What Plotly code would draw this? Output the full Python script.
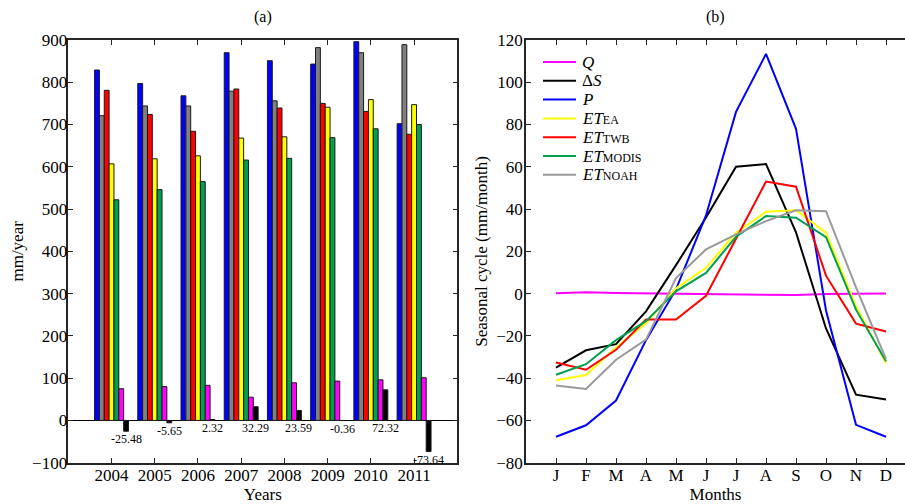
import plotly.graph_objects as go

years = [2004, 2005, 2006, 2007, 2008, 2009, 2010, 2011]
P_year = [829, 797, 768, 870, 851, 843, 896, 702]
NOAH_year = [721, 744, 744, 779, 756, 882, 870, 889]
TWB_year = [781, 724, 684, 784, 739, 750, 731, 677]
EA_year = [607, 619, 626, 668, 671, 741, 759, 747]
MODIS_year = [522, 546, 565, 616, 620, 669, 690, 700]
Q_year = [75, 80, 83, 55, 89, 93, 96, 101]
dS_year = [-25.48, -5.65, 2.32, 32.29, 23.59, -0.36, 72.32, -73.64]

months = list(range(1, 13))
month_labels = ["J", "F", "M", "A", "M", "J", "J", "A", "S", "O", "N", "D"]
Q_m = [0.2, 0.7, 0.3, 0.1, 0.0, -0.2, -0.3, -0.4, -0.7, -0.2, 0.1, 0.1]
dS_m = [-35.0, -26.8, -23.9, -8.4, 13.5, 36.0, 60.0, 61.3, 29.0, -16.5, -47.8, -50.1]
P_m = [-67.7, -62.3, -50.6, -22.0, 2.0, 37.0, 86.0, 113.4, 78.0, -8.0, -62.1, -67.7]
EA_m = [-41.0, -38.5, -25.5, -14.0, 2.5, 12.2, 28.8, 38.7, 39.4, 28.8, -6.0, -33.0]
TWB_m = [-32.6, -36.0, -26.6, -12.3, -12.3, -1.0, 26.0, 53.0, 50.6, 8.5, -14.2, -17.9]
MODIS_m = [-38.4, -33.4, -22.0, -13.0, 1.1, 9.8, 26.9, 36.7, 35.9, 26.7, -7.6, -32.0]
NOAH_m = [-43.5, -45.1, -31.3, -21.8, 7.4, 20.9, 28.0, 34.3, 39.4, 39.0, 3.0, -31.0]

C_BLUE = "#0000ff"
C_GRAY = "#808080"
C_GRAY_L = "#999999"
C_RED = "#ff0000"
C_YEL = "#ffff00"
C_GRN = "#00a050"
C_MAG = "#ff00ff"
C_BLK = "#000000"

FONT = "Liberation Serif"
AX = "#262626"
W, H = 905, 504

fig = go.Figure()

bar_series = [
    (P_year, C_BLUE),
    (NOAH_year, C_GRAY),
    (TWB_year, C_RED),
    (EA_year, C_YEL),
    (MODIS_year, C_GRN),
    (Q_year, C_MAG),
    (dS_year, C_BLK),
]
for vals, col in bar_series:
    fig.add_trace(go.Bar(x=years, y=vals, marker=dict(color=col, line=dict(color="#1a1a1a", width=1)),
                         showlegend=False, xaxis="x", yaxis="y"))

bargap = 0.215
n_b = len(bar_series)
gw = 1 - bargap
off = -gw / 2 + (n_b - 1 + 0.5) * gw / n_b
for yr, v in zip(years, dS_year):
    fig.add_annotation(x=yr + off, y=min(0, v), xref="x", yref="y", text=f"{v:.2f}",
                       showarrow=False, yanchor="top", yshift=1,
                       font=dict(family=FONT, size=12, color="black"))

SUB = '<span style="font-size:12px">{}</span>'
line_series = [
    ("<i>Q</i>", Q_m, C_MAG),
    ("Δ<i>S</i>", dS_m, C_BLK),
    ("<i>P</i>", P_m, C_BLUE),
    ("<i>ET</i>" + SUB.format("EA"), EA_m, C_YEL),
    ("<i>ET</i>" + SUB.format("TWB"), TWB_m, C_RED),
    ("<i>ET</i>" + SUB.format("MODIS"), MODIS_m, C_GRN),
    ("<i>ET</i>" + SUB.format("NOAH"), NOAH_m, C_GRAY_L),
]
for name, vals, col in line_series:
    fig.add_trace(go.Scatter(x=months, y=vals, mode="lines", name=name, showlegend=False,
                             line=dict(color=col, width=2), xaxis="x2", yaxis="y2"))

# legend drawn as line swatches + labels (top-left of panel b)
leg_x0, leg_x1, leg_tx = 543 / W, 576 / W, 580 / W
for i, (name, vals, col) in enumerate(line_series):
    yy = 1 - (62 + i * 18.8) / H
    fig.add_shape(type="line", xref="paper", yref="paper", x0=leg_x0, x1=leg_x1, y0=yy, y1=yy,
                  line=dict(color=col, width=2))
    fig.add_annotation(x=leg_tx, y=yy, xref="paper", yref="paper", text=name, showarrow=False,
                       xanchor="left", yanchor="middle",
                       font=dict(family=FONT, size=17, color="black"))

axis_common = dict(showline=True, linecolor=AX, linewidth=1.5, ticks="inside", ticklen=5,
                   tickcolor=AX, tickwidth=1, showgrid=False, automargin=False,
                   tickfont=dict(family=FONT, size=17, color="black"))

fig.update_layout(
    width=W, height=H, margin=dict(l=0, r=0, t=0, b=0, autoexpand=False),
    paper_bgcolor="white", plot_bgcolor="white", showlegend=False,
    barmode="group", bargap=bargap, bargroupgap=0,
    xaxis=dict(domain=[68.3 / W, 457.3 / W], range=[2003, 2012], tickvals=years,
               mirror="ticks", anchor="y", zeroline=False, ticklabelstandoff=-4,
               title=dict(text="Years", standoff=6, font=dict(family=FONT, size=17, color="black")),
               **axis_common),
    yaxis=dict(domain=[1 - 462.7 / H, 1 - 40 / H], range=[-100, 900], dtick=100, mirror="ticks",
               anchor="x", zeroline=True, zerolinecolor="black", zerolinewidth=1, ticklabelstandoff=-4,
               title=dict(text="mm/year", standoff=4, font=dict(family=FONT, size=17, color="black")),
               **axis_common),
    xaxis2=dict(domain=[526 / W, 1.0], range=[0, 12.633], tickvals=months, ticktext=month_labels,
                mirror="ticks", anchor="y2", zeroline=False, ticklabelstandoff=-4,
                title=dict(text="Months", standoff=6, font=dict(family=FONT, size=17, color="black")),
                **axis_common),
    yaxis2=dict(domain=[1 - 462.7 / H, 1 - 40 / H], range=[-80, 120], dtick=20, mirror=False,
                anchor="x2", zeroline=False, ticklabelstandoff=-2,
                title=dict(text="Seasonal cycle (mm/month)", standoff=4,
                           font=dict(family=FONT, size=17, color="black")),
                **axis_common),
)

fig.add_annotation(x=(68.3 + 457.3) / 2 / W, y=1 - 17 / H, xref="paper", yref="paper", text="(a)",
                   showarrow=False, xanchor="center", yanchor="middle",
                   font=dict(family=FONT, size=16, color="black"))
fig.add_annotation(x=(526 + 904) / 2 / W, y=1 - 17 / H, xref="paper", yref="paper", text="(b)",
                   showarrow=False, xanchor="center", yanchor="middle",
                   font=dict(family=FONT, size=16, color="black"))

fig.write_html("out.html")
